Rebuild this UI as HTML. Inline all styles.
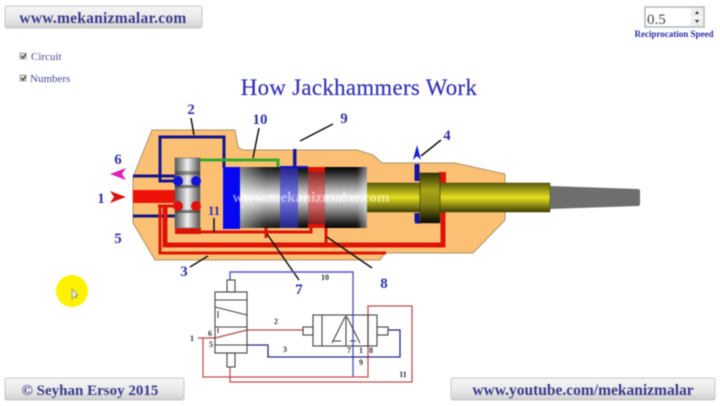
<!DOCTYPE html>
<html><head><meta charset="utf-8"><style>
html,body{margin:0;padding:0;background:#fff}
svg{display:block;filter:blur(.5px)}
text{font-family:"Liberation Serif",serif}
</style></head><body>
<svg width="720" height="406" viewBox="0 0 720 406" xmlns="http://www.w3.org/2000/svg">
<defs>
<linearGradient id="btn" x1="0" y1="0" x2="0" y2="1"><stop offset="0" stop-color="#f6f6f6"/><stop offset=".6" stop-color="#e8e8e8"/><stop offset="1" stop-color="#cfcfcf"/></linearGradient>
<linearGradient id="cyl" x1="0" y1="0" x2="0" y2="1"><stop offset="0" stop-color="#050505"/><stop offset=".1" stop-color="#2a2a2a"/><stop offset=".5" stop-color="#f5f5f5"/><stop offset=".9" stop-color="#2a2a2a"/><stop offset="1" stop-color="#050505"/></linearGradient>
<linearGradient id="cylh" x1="0" y1="0" x2="1" y2="0"><stop offset="0" stop-color="#fff" stop-opacity=".5"/><stop offset=".2" stop-color="#fff" stop-opacity=".1"/><stop offset=".5" stop-color="#fff" stop-opacity="0"/><stop offset=".92" stop-color="#fff" stop-opacity="0"/><stop offset="1" stop-color="#fff" stop-opacity=".5"/></linearGradient>
<linearGradient id="yel" x1="0" y1="0" x2="0" y2="1"><stop offset="0" stop-color="#5a5a0a"/><stop offset=".5" stop-color="#e6e020"/><stop offset="1" stop-color="#3e3e06"/></linearGradient>
<linearGradient id="col" x1="0" y1="0" x2="0" y2="1"><stop offset="0" stop-color="#333305"/><stop offset=".35" stop-color="#a8a418"/><stop offset=".6" stop-color="#8c8a12"/><stop offset="1" stop-color="#050500"/></linearGradient>
<linearGradient id="val" x1="0" y1="0" x2="1" y2="0"><stop offset="0" stop-color="#555"/><stop offset=".5" stop-color="#f0f0f0"/><stop offset="1" stop-color="#555"/></linearGradient>
</defs>

<!-- top button -->
<rect x="5" y="6" width="197" height="22" rx="2" fill="url(#btn)" stroke="#c8c8c8"/>
<text x="103" y="23" font-size="15.5" text-anchor="middle" fill="#3a3a8c" font-weight="bold" letter-spacing=".25">www.mekanizmalar.com</text>

<!-- checkboxes -->
<rect x="20" y="53" width="6" height="6" fill="#ddd" stroke="#999" stroke-width=".8"/>
<path d="M21 56l2 2 3-4" stroke="#333" fill="none" stroke-width="1.2"/>
<text x="31" y="60" font-size="11" fill="#4a4a90">Circuit</text>
<rect x="20" y="75" width="6" height="6" fill="#ddd" stroke="#999" stroke-width=".8"/>
<path d="M21 78l2 2 3-4" stroke="#333" fill="none" stroke-width="1.2"/>
<text x="30" y="82" font-size="11" fill="#4a4a90">Numbers</text>

<!-- speed -->
<rect x="645" y="7" width="59" height="20" fill="#fff" stroke="#a8b4b0" stroke-width="1.4"/>
<text x="647" y="24" font-size="15" fill="#445" font-family="Liberation Sans">0.5</text>
<rect x="691" y="8" width="12" height="9" fill="#eee"/><rect x="691" y="18" width="12" height="8" fill="#eee"/>
<path d="M695 14l2-3 2 3zM695 20l2 3 2-3z" fill="#333"/>
<text x="674" y="37" font-size="9" font-weight="bold" text-anchor="middle" fill="#2c2ca8">Reciprocation Speed</text>

<!-- title -->
<text x="359" y="95" font-size="22.8" text-anchor="middle" fill="#3232b4" stroke="#3232b4" stroke-width=".2" letter-spacing=".35">How Jackhammers Work</text>

<!-- body -->
<path d="M152 130H235L238 147L243 150H357L373 155L382 163H455L505 174V220L473 253H385L380 260H155L133 223V177Z" fill="#fcc074" stroke="#a89468" stroke-width="1"/>

<!-- blue pipes -->
<g fill="none" stroke="#14148c" stroke-width="3">
<path d="M133 176H175"/>
<path d="M133 216H175"/>
<path d="M175 181H160V137H224V168"/>
</g>
<rect x="293" y="149" width="3.5" height="20" fill="#1a1a96"/>
<!-- green pipe -->
<path d="M200 160H278V167" fill="none" stroke="#38a828" stroke-width="3"/>

<!-- red pipes -->
<rect x="133" y="190" width="43" height="13" fill="#ee1208"/>
<g fill="none" stroke="#dc1408">
<path d="M160 207V253H386" stroke-width="3"/>
<path d="M165 207V245H443V212" stroke-width="5"/>
<path d="M158 206H178" stroke-width="3"/>
<path d="M175 232H311V226" stroke-width="3"/>
<path d="M266 228V238" stroke-width="3"/>
<path d="M326 228V245" stroke-width="3"/>
</g>
<rect x="175" y="228" width="26" height="6" fill="#dc1408"/>
<rect x="439" y="172" width="7" height="12" fill="#dc1408"/>
<path d="M417 164V181" stroke="#1414a0" stroke-width="5"/>
<path d="M417 213V222" stroke="#1414a0" stroke-width="5"/>
<path d="M415 222H421" stroke="#1414a0" stroke-width="3"/>
<path d="M413 160L417 145L421 160L417 156Z" fill="#1a1ad0"/>

<!-- valve -->
<rect x="175" y="158" width="25" height="70" fill="url(#val)" stroke="#666" stroke-width=".6"/>
<rect x="175" y="171" width="25" height="4" fill="#333" opacity=".5"/>
<rect x="175" y="185" width="25" height="3" fill="#333" opacity=".6"/>
<rect x="175" y="210" width="25" height="3" fill="#333" opacity=".6"/>
<circle cx="178" cy="181" r="5" fill="#1212d8"/><circle cx="196" cy="181" r="5" fill="#1212d8"/>
<circle cx="178" cy="206" r="5" fill="#e01010"/><circle cx="196" cy="206" r="5" fill="#e01010"/>

<!-- shaft & tool -->
<path d="M550 186L638 189Q640 189 640 191V204Q640 206 638 206L550 209Z" fill="#6e6e6e"/>
<rect x="366" y="183" width="184" height="29" fill="url(#yel)" stroke="#55550a" stroke-width=".6"/>
<rect x="420" y="173" width="20" height="50" fill="url(#col)" stroke="#333300" stroke-width=".6"/>

<!-- cylinder -->
<rect x="223" y="167" width="17" height="62" fill="#0808f0"/>
<rect x="240" y="167" width="127" height="61" fill="url(#cyl)"/>
<rect x="240" y="167" width="127" height="61" fill="url(#cylh)"/>
<rect x="280" y="167" width="18" height="61" fill="#3232e0" opacity=".6"/>
<rect x="308" y="167" width="17" height="61" fill="#e82020" opacity=".5"/>
<rect x="280" y="166" width="28" height="2.500" fill="#1414c0"/>
<rect x="308" y="167" width="17" height="5" fill="#dc1408"/>
<rect x="308" y="224" width="17" height="4" fill="#dc1408"/>
<text x="311" y="202" font-size="15" font-weight="bold" text-anchor="middle" fill="#fff" fill-opacity=".5">www.mekanizmalar.com</text>

<!-- leaders -->
<g stroke="#111" stroke-width="1.5" fill="none">
<path d="M191 118L194 135"/>
<path d="M259 128L253 158"/>
<path d="M300 141L333 124"/>
<path d="M421 156L441 140"/>
<path d="M327 237L372 268"/>
<path d="M267 234L299 280"/>
<path d="M190 267L208 256"/>
<path d="M214 218V232"/>
</g>

<!-- arrows -->
<path d="M110 174L126 168L122 174L126 180Z" fill="#e020b8"/>
<path d="M126 197L110 191L114 197L110 203Z" fill="#d81010"/>

<!-- numbers -->
<g font-size="15" font-weight="bold" fill="#3232a8" text-anchor="middle">
<text x="191" y="114">2</text>
<text x="260" y="124">10</text>
<text x="344" y="123">9</text>
<text x="447" y="140">4</text>
<text x="118" y="164">6</text>
<text x="101" y="203">1</text>
<text x="118" y="243">5</text>
<text x="214" y="215" font-size="13">11</text>
<text x="184" y="276">3</text>
<text x="299" y="294">7</text>
<text x="384" y="288">8</text>
</g>

<!-- circuit -->
<g fill="none">
<path d="M230 280V272H353V377" stroke="#5858c0" stroke-width="1.4"/>
<path d="M198 338H215L247 330H303" stroke="#b84a4a" stroke-width="1.3"/>
<path d="M203 338V377H368V306H412V382H230V367" stroke="#c05050" stroke-width="1.3"/>
<path d="M247 345H268V357H400V330H388" stroke="#2a2a7a" stroke-width="1.3"/>
<g stroke="#444" stroke-width="1.1">
<rect x="215" y="292" width="32" height="61"/>
<path d="M215 300H247M215 307L247 315M215 327H247M215 345H247"/>
<path d="M218 311V318M218 328V333"/>
<rect x="227" y="280" width="8" height="12"/>
<rect x="227" y="353" width="8" height="14"/>
<rect x="313" y="315" width="64" height="31"/>
<path d="M322 315V346M346 315V346M368 315V346M345 317L332 343M347 317L360 343"/>
<path d="M333 341H341M350 341H356"/>
<rect x="303" y="327" width="10" height="8"/>
<rect x="377" y="327" width="11" height="8"/>
</g>
</g>
<g font-size="8" font-weight="bold" fill="#333" text-anchor="middle">
<text x="192" y="341">1</text>
<text x="210" y="336">6</text>
<text x="211" y="347">5</text>
<text x="276" y="324">2</text>
<text x="285" y="352">3</text>
<text x="325" y="280">10</text>
<text x="349" y="353">7</text>
<text x="361" y="353">1</text>
<text x="371" y="353">8</text>
<text x="361" y="365">9</text>
<text x="403" y="377">11</text>
</g>

<!-- bottom buttons -->
<rect x="5" y="378" width="179" height="22" rx="2" fill="url(#btn)" stroke="#c8c8c8"/>
<text x="90" y="395" font-size="15" text-anchor="middle" fill="#3a3a8c" font-weight="bold">© Seyhan Ersoy 2015</text>
<rect x="451" y="378" width="264" height="22" rx="2" fill="url(#btn)" stroke="#c8c8c8"/>
<text x="583" y="395" font-size="15.5" text-anchor="middle" fill="#3a3a8c" font-weight="bold">www.youtube.com/mekanizmalar</text>

<!-- cursor highlight -->
<circle cx="72" cy="291" r="16" fill="#fdf200"/>
<path d="M72 289V299L74.500 296.500L77 298L75.500 295H78Z" fill="#eee" stroke="#777" stroke-width=".6"/>
</svg>
</body></html>
